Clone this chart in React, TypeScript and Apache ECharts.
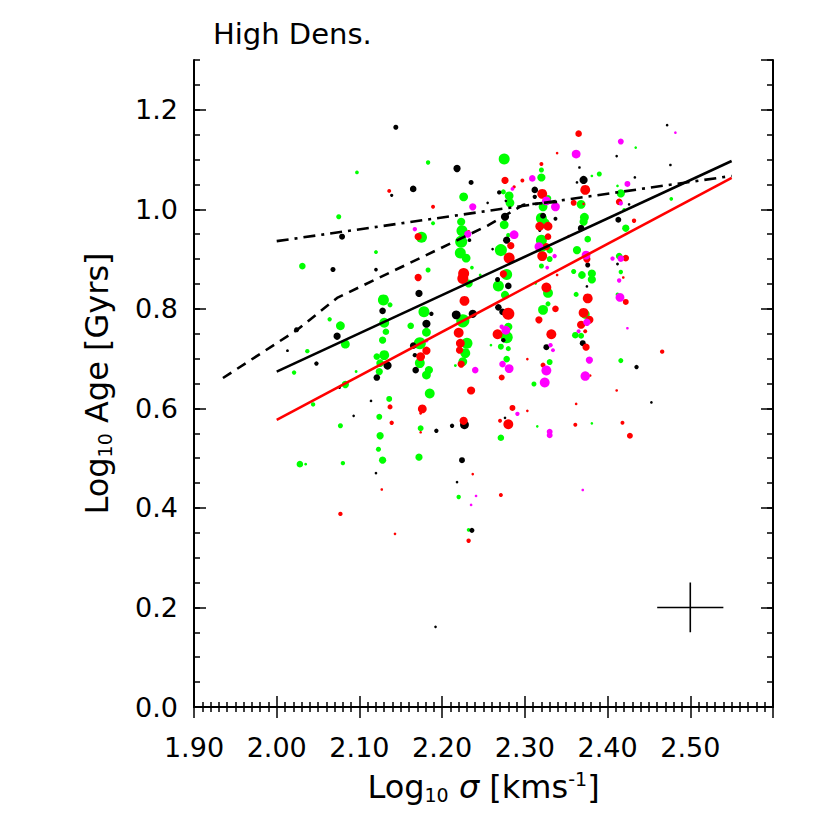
import React, { useEffect, useRef } from 'react';
import * as echarts from 'echarts';

const FONT = 'DejaVu Sans';

// x range / ticks
const xMin = 1.9;
const xMax = 2.6;
const xStep = 0.1;
const yMin = 0;
const yMax = 1.3;
const yStep = 0.2;
const yMinorStep = 0.05;

// [log sigma, log age, marker diameter]
const blackPts = [
  [2.144, 1.165, 4.6], [2.218, 1.082, 6.6], [2.139, 1.028, 3], [2.165, 1.041, 6], [2.235, 1.054, 4.6],
  [2.255, 1.013, 2.4], [2.233, 0.938, 3.4], [2.12, 0.879, 3.4], [2.172, 0.831, 6.6], [2.079, 0.945, 5.4],
  [2.068, 0.879, 4.6], [2.024, 0.758, 4.6], [2.013, 0.716, 2.6], [2.048, 0.69, 4], [2.073, 0.745, 6.6],
  [2.076, 0.642, 2.6], [2.128, 0.796, 6], [2.187, 0.79, 4], [2.217, 0.788, 8], [2.237, 0.79, 7.4],
  [2.181, 0.77, 7.4], [2.165, 0.726, 6], [2.167, 0.707, 4], [2.134, 0.686, 7.4], [2.168, 0.677, 6],
  [2.121, 0.662, 6], [2.114, 0.615, 2.4], [2.093, 0.585, 2.4], [2.227, 0.567, 8], [2.212, 0.565, 4],
  [2.193, 0.555, 4], [2.224, 0.496, 5.4], [2.12, 0.47, 2.4], [2.218, 0.452, 2.4], [2.236, 0.355, 4.6],
  [2.192, 0.161, 2.4], [2.472, 1.169, 2.4], [2.411, 1.107, 2.4], [2.366, 1.084, 2.4], [2.371, 1.059, 7.4],
  [2.363, 1.054, 2.4], [2.312, 1.039, 6], [2.269, 1.034, 4], [2.312, 1.025, 4], [2.277, 1.017, 2.4],
  [2.276, 0.985, 7.4], [2.337, 0.981, 3.6], [2.322, 0.987, 5.4], [2.413, 0.979, 5.4], [2.368, 0.962, 6],
  [2.318, 0.958, 3], [2.278, 0.938, 6.6], [2.261, 0.92, 2.4], [2.376, 0.888, 4.6], [2.412, 0.89, 2.6],
  [2.267, 0.859, 4.6], [2.28, 0.846, 6], [2.268, 0.803, 6], [2.273, 0.794, 6], [2.274, 0.737, 4],
  [2.326, 0.723, 5.4], [2.375, 0.845, 2.4], [2.37, 0.731, 5.4], [2.476, 1.089, 2.4], [2.433, 1.064, 2.4],
  [2.426, 1.01, 2.4], [2.435, 0.683, 4], [2.453, 0.612, 2.4], [2.276, 0.581, 2.4],
];

const greenPts = [
  [2.075, 0.985, 4.6], [2.031, 0.886, 6], [2.183, 1.094, 4], [2.097, 1.074, 3.4], [2.226, 1.025, 8],
  [2.189, 0.972, 3.6], [2.175, 0.944, 10], [2.223, 0.975, 7.4], [2.224, 0.957, 10], [2.223, 0.935, 11],
  [2.222, 0.912, 10], [2.229, 0.902, 8], [2.12, 0.914, 3.6], [2.183, 0.878, 4.6], [2.236, 0.883, 3.4],
  [2.232, 0.851, 7.4], [2.246, 0.868, 2.6], [2.129, 0.818, 10], [2.037, 0.715, 4], [2.021, 0.672, 4],
  [2.064, 0.779, 4], [2.077, 0.766, 8], [2.083, 0.729, 8], [2.083, 0.648, 6.6], [2.044, 0.608, 4],
  [2.077, 0.565, 4.6], [2.028, 0.488, 6], [2.035, 0.488, 2.6], [2.08, 0.49, 4], [2.137, 0.808, 4.6],
  [2.178, 0.794, 10], [2.225, 0.776, 12], [2.13, 0.772, 9], [2.162, 0.766, 6], [2.132, 0.754, 6],
  [2.181, 0.753, 8], [2.128, 0.737, 6.6], [2.173, 0.731, 11], [2.23, 0.731, 10], [2.228, 0.711, 9],
  [2.13, 0.707, 9], [2.121, 0.704, 6], [2.173, 0.691, 9], [2.225, 0.694, 8], [2.125, 0.691, 7],
  [2.216, 0.686, 2.6], [2.184, 0.677, 7.4], [2.181, 0.667, 8], [2.124, 0.674, 6.6], [2.096, 0.674, 2.6],
  [2.185, 0.63, 9], [2.136, 0.619, 5.4], [2.124, 0.583, 5.4], [2.174, 0.56, 5.4], [2.125, 0.545, 6.6],
  [2.123, 0.518, 4.6], [2.128, 0.496, 6.6], [2.172, 0.502, 6.6], [2.22, 0.422, 4], [2.232, 0.356, 3.4],
  [2.275, 1.101, 10], [2.32, 1.079, 4.6], [2.32, 1.064, 7.4], [2.39, 1.071, 4.6], [2.381, 1.067, 2.4],
  [2.412, 1.047, 2.4], [2.281, 1.027, 8], [2.274, 1.035, 4.6], [2.416, 1.032, 7.4], [2.328, 1.022, 6],
  [2.282, 1.013, 8], [2.368, 1.01, 8], [2.42, 0.999, 3.4], [2.322, 1.005, 8], [2.275, 0.969, 8],
  [2.372, 0.984, 8], [2.371, 0.975, 7.4], [2.32, 0.982, 10], [2.324, 0.972, 9], [2.422, 0.962, 6.6],
  [2.376, 0.94, 6], [2.28, 0.948, 4], [2.271, 0.918, 11], [2.32, 0.938, 10], [2.32, 0.925, 10],
  [2.33, 0.918, 6], [2.33, 0.9, 5.4], [2.363, 0.918, 7.4], [2.414, 0.906, 6], [2.32, 0.886, 4.6],
  [2.434, 1.124, 2.4], [2.477, 1.021, 3.4], [2.278, 0.869, 10], [2.268, 0.846, 10], [2.276, 0.828, 7.4],
  [2.28, 0.764, 7.4], [2.278, 0.743, 11], [2.259, 0.727, 2.4], [2.271, 0.724, 5.4], [2.28, 0.72, 4.6],
  [2.278, 0.699, 6], [2.313, 0.851, 2.4], [2.328, 0.832, 9], [2.328, 0.81, 4.6], [2.322, 0.798, 9],
  [2.33, 0.693, 5.4], [2.311, 0.649, 4.6], [2.359, 0.875, 4.6], [2.369, 0.868, 7], [2.381, 0.871, 7.4],
  [2.381, 0.859, 7.4], [2.362, 0.829, 4.6], [2.373, 0.789, 8], [2.361, 0.747, 6], [2.368, 0.746, 5.4],
  [2.416, 0.874, 4], [2.412, 0.829, 3.4], [2.416, 0.696, 4.6], [2.271, 0.541, 6], [2.315, 0.564, 2.4],
  [2.381, 0.57, 2.4],
];

const redPts = [
  [2.136, 1.037, 3.6], [2.189, 1.005, 3.6], [2.171, 0.945, 6.6], [2.232, 0.955, 3], [2.226, 0.871, 10],
  [2.225, 0.861, 10], [2.171, 0.863, 6.6], [2.227, 0.816, 9], [2.22, 0.752, 9], [2.222, 0.731, 8],
  [2.181, 0.716, 7.4], [2.221, 0.717, 6.6], [2.174, 0.704, 8], [2.223, 0.689, 6.6], [2.235, 0.636, 7.4],
  [2.137, 0.603, 4.6], [2.176, 0.599, 8], [2.174, 0.59, 2.6], [2.139, 0.571, 4], [2.226, 0.575, 7.4],
  [2.174, 0.552, 2.4], [2.237, 0.468, 2.4], [2.127, 0.437, 2.4], [2.077, 0.388, 4], [2.143, 0.348, 2.4],
  [2.232, 0.334, 4], [2.365, 1.152, 6], [2.339, 1.113, 2.4], [2.32, 1.091, 3.6], [2.297, 1.058, 3.6],
  [2.276, 1.058, 6.6], [2.287, 1.045, 3], [2.373, 1.039, 9], [2.321, 1.031, 9], [2.414, 1.015, 6],
  [2.359, 1.013, 5.4], [2.371, 1.011, 2.4], [2.328, 0.966, 8], [2.318, 0.966, 8], [2.353, 0.946, 2.4],
  [2.283, 0.927, 6.6], [2.281, 0.902, 10], [2.328, 0.945, 6], [2.321, 0.906, 9], [2.326, 0.925, 6.6],
  [2.375, 0.9, 6.6], [2.422, 0.902, 6], [2.432, 0.977, 4], [2.274, 0.87, 6.6], [2.28, 0.79, 11],
  [2.267, 0.749, 9], [2.272, 0.662, 5.4], [2.303, 0.699, 2.4], [2.326, 0.843, 9], [2.337, 0.8, 6],
  [2.317, 0.778, 6.6], [2.332, 0.749, 9], [2.322, 0.687, 4.6], [2.339, 0.868, 2.4], [2.376, 0.821, 9],
  [2.371, 0.792, 9], [2.378, 0.778, 7.4], [2.368, 0.768, 7.4], [2.373, 0.755, 3.6], [2.374, 0.723, 6.6],
  [2.379, 0.666, 2.4], [2.419, 0.863, 2.4], [2.422, 0.814, 5.4], [2.411, 0.636, 2.4], [2.466, 0.714, 4],
  [2.427, 0.545, 5.4], [2.285, 0.601, 5.4], [2.27, 0.575, 3.6], [2.28, 0.568, 9], [2.303, 0.595, 2.4],
  [2.362, 0.609, 2.4], [2.361, 0.567, 3.6], [2.418, 0.571, 3.6], [2.271, 0.426, 3.6],
];

const magentaPts = [
  [2.237, 1.005, 6.6], [2.167, 0.96, 4], [2.231, 0.95, 6.6], [2.181, 0.736, 3.4], [2.24, 0.677, 6],
  [2.241, 0.424, 2.4], [2.235, 0.406, 2.4], [2.482, 1.154, 2.4], [2.362, 1.111, 8], [2.416, 1.136, 5.4],
  [2.309, 1.062, 6], [2.424, 1.051, 5.4], [2.285, 1.041, 3.4], [2.416, 1.012, 4], [2.326, 1.017, 8],
  [2.337, 1.005, 8], [2.287, 0.949, 8], [2.317, 0.925, 8], [2.336, 0.906, 4], [2.374, 0.908, 8],
  [2.406, 0.901, 4], [2.416, 0.901, 6], [2.327, 0.883, 3.4], [2.277, 0.757, 8], [2.272, 0.764, 4],
  [2.273, 0.689, 6], [2.281, 0.68, 8], [2.331, 0.727, 4], [2.334, 0.717, 3.6], [2.326, 0.676, 9],
  [2.324, 0.652, 9], [2.375, 0.773, 6.6], [2.365, 0.755, 3.6], [2.378, 0.697, 6.6], [2.373, 0.665, 8.6],
  [2.414, 0.857, 4], [2.415, 0.823, 8], [2.424, 0.761, 2.4], [2.291, 0.589, 4], [2.33, 0.553, 5.4],
  [2.33, 0.546, 5.4], [2.37, 0.436, 2.4],
];

// fitted / running lines
const solidFit = [[2.0, 0.674], [2.55, 1.097]];
const redFit = [[2.0, 0.577], [2.55, 1.063]];
const dashDotLine = [[2.0, 0.936], [2.55, 1.067]];
const dashedLine = [[1.935, 0.661], [2.0245, 0.7575], [2.073, 0.822], [2.256, 0.968], [2.298, 1.009], [2.339, 1.015]];

// typical error bar
const errCenter = [2.5, 0.2];
const errX = 0.04;
const errY = 0.05;

const titleText = 'High Dens.';

export default function App() {
  const ref = useRef<HTMLDivElement>(null);

  useEffect(() => {
    const chart = echarts.init(ref.current as HTMLDivElement, null, { renderer: 'svg' });

    const axisLine = { show: true, lineStyle: { color: '#000', width: 2 } };
    const baseX = { type: 'value', min: xMin, max: xMax, interval: xStep, splitLine: { show: false }, minorSplitLine: { show: false } };
    const baseY = { type: 'value', min: yMin, max: yMax, splitLine: { show: false }, minorSplitLine: { show: false } };

    const scatter = (data: number[][], color: string) => ({
      type: 'scatter',
      data,
      symbol: 'circle',
      symbolSize: (v: number[]) => v[2] * 1.1,
      itemStyle: { color, opacity: 1 },
      silent: true,
      z: 3,
    });
    const line = (data: number[][], color: string, type: any, width = 2.6) => ({
      type: 'line',
      data,
      showSymbol: false,
      symbol: 'none',
      lineStyle: { color, width, type },
      silent: true,
      z: 4,
    });

    const labelStyle = { fontFamily: FONT, fontSize: 27, color: '#000' };

    const option: any = {
      animation: false,
      backgroundColor: '#fff',
      title: {
        text: titleText,
        left: 208,
        top: 14,
        textStyle: { fontFamily: FONT, fontSize: 29, fontWeight: 'normal', color: '#000' },
      },
      grid: { left: 194, right: 57, top: 60, bottom: 123, containLabel: false },
      xAxis: [
        {
          ...baseX,
          position: 'bottom',
          axisLine,
          axisTick: { show: true, inside: true, length: 11, lineStyle: { color: '#000', width: 1.5 } },
          minorTick: { show: true, splitNumber: 10, length: 5, lineStyle: { color: '#000', width: 1.5 } },
          axisLabel: {
            ...labelStyle,
            margin: 27,
            showMaxLabel: false,
            formatter: (v: number) => v.toFixed(2),
          },
          name: '{a|Log}{s|10}{a| }{g|σ}{a| [kms}{p|-1}{a|]}',
          nameLocation: 'middle',
          nameGap: 62,
          nameTextStyle: {
            fontFamily: FONT,
            fontSize: 32,
            color: '#000',
            rich: {
              a: { fontFamily: FONT, fontSize: 32, color: '#000' },
              s: { fontFamily: FONT, fontSize: 19, color: '#000', padding: [16, 0, 0, 0] },
              g: { fontFamily: FONT, fontSize: 32, color: '#000', fontStyle: 'italic' },
              p: { fontFamily: FONT, fontSize: 19, color: '#000', padding: [0, 0, 16, 0] },
            },
          },
        },
        {
          ...baseX,
          position: 'top',
          axisLine,
          axisTick: { show: true, inside: true, length: 11, lineStyle: { color: '#000', width: 1.5 } },
          minorTick: { show: true, splitNumber: 10, length: 5, lineStyle: { color: '#000', width: 1.5 } },
          axisLabel: { show: false },
        },
      ],
      yAxis: [
        {
          ...baseY,
          interval: yStep,
          position: 'left',
          axisLine,
          axisTick: { show: true, inside: true, length: 12, lineStyle: { color: '#000', width: 1.5 } },
          axisLabel: { ...labelStyle, margin: 16, showMaxLabel: false, formatter: (v: number) => v.toFixed(1) },
          name: '{a|Log}{s|10}{a| Age [Gyrs]}',
          nameLocation: 'middle',
          nameGap: 80,
          nameTextStyle: {
            fontFamily: FONT,
            fontSize: 32,
            color: '#000',
            rich: {
              a: { fontFamily: FONT, fontSize: 32, color: '#000' },
              s: { fontFamily: FONT, fontSize: 19, color: '#000', padding: [16, 0, 0, 0] },
            },
          },
        },
        {
          ...baseY,
          interval: yMinorStep,
          position: 'left',
          axisLine: { show: false },
          axisTick: { show: true, inside: true, length: 6, lineStyle: { color: '#000', width: 1.5 } },
          axisLabel: { show: false },
        },
        {
          ...baseY,
          interval: yStep,
          position: 'right',
          axisLine,
          axisTick: { show: true, inside: true, length: 12, lineStyle: { color: '#000', width: 1.5 } },
          axisLabel: { show: false },
        },
        {
          ...baseY,
          interval: yMinorStep,
          position: 'right',
          axisLine: { show: false },
          axisTick: { show: true, inside: true, length: 6, lineStyle: { color: '#000', width: 1.5 } },
          axisLabel: { show: false },
        },
      ],
      series: [
        scatter(greenPts, '#00ff00'),
        scatter(blackPts, '#000000'),
        scatter(redPts, '#ff0000'),
        scatter(magentaPts, '#ff00ff'),
        line(solidFit, '#000', 'solid'),
        line(redFit, '#ff0000', 'solid'),
        line(dashDotLine, '#000', [12, 6, 3, 6]),
        line(dashedLine, '#000', [10, 7]),
        line([[errCenter[0] - errX, errCenter[1]], [errCenter[0] + errX, errCenter[1]]], '#000', 'solid', 1.6),
        line([[errCenter[0], errCenter[1] - errY], [errCenter[0], errCenter[1] + errY]], '#000', 'solid', 1.6),
      ],
    };

    chart.setOption(option);
    return () => chart.dispose();
  }, []);

  return (
    <div
      ref={ref}
      style={{ position: 'fixed', left: 0, top: 0, width: 830, height: 830, background: '#fff' }}
    />
  );
}
